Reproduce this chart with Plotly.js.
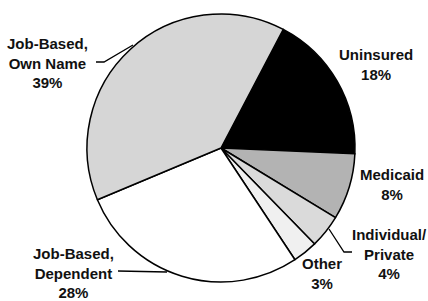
<!DOCTYPE html>
<html><head><meta charset="utf-8">
<script src="https://cdn.plot.ly/plotly-3.0.1.min.js"></script>
<style>html,body{margin:0;padding:0;background:#fff;}#chart{width:428px;height:301px;}</style>
</head><body><div id="chart"></div>
<script>
var categories = ["Uninsured", "Medicaid", "Individual/<br>Private", "Other", "Job-Based,<br>Dependent", "Job-Based,<br>Own Name"];
var values = [18, 8, 4, 3, 28, 39];
var colors = ["#000000", "#b3b3b3", "#dadada", "#f0f0f0", "#ffffff", "#d6d6d6"];

var W = 428, H = 301;
function px(x){return x/W;}
function py(y){return 1 - y/H;}

// label positions in pixels (layout only)
var labelPos = [[376,64],[392,184],[389,254],[322,273],[73,273],[47,63]];

var annotations = categories.map(function(c,i){
  return {x: px(labelPos[i][0]), y: py(labelPos[i][1]), xref:'paper', yref:'paper',
    text: '<b>' + c + '<br>' + values[i] + '%</b>', showarrow:false,
    xanchor:'center', yanchor:'middle', align:'center',
    font:{family:'Liberation Sans, Arial, sans-serif', size:15, color:'#111'}};
});

function pathOf(pts){
  return pts.map(function(p,i){return (i?'L':'M') + px(p[0]) + ',' + py(p[1]);}).join(' ');
}
var leaders = [
  [[96,62],[104,62],[133,45]],
  [[352,252],[344,252],[329,229]],
  [[118,271],[167,272]]
];
var shapes = leaders.map(function(l){
  return {type:'path', xref:'paper', yref:'paper', path: pathOf(l), line:{color:'#000', width:1.3}};
});

var cx = 221, cy = 148, r = 134;
var trace = {
  type:'pie', labels: categories, values: values, sort:false, direction:'clockwise',
  rotation: 27.7, textinfo:'none', hoverinfo:'none',
  marker:{colors: colors, line:{color:'#000', width:1.5}},
  domain:{x:[(cx-r)/W,(cx+r)/W], y:[(H-cy-r)/H,(H-cy+r)/H]}
};
Plotly.newPlot('chart',[trace],{
  width:W, height:H, margin:{l:0,r:0,t:0,b:0}, showlegend:false,
  paper_bgcolor:'#fff', annotations: annotations, shapes: shapes
},{staticPlot:true});
</script></body></html>
